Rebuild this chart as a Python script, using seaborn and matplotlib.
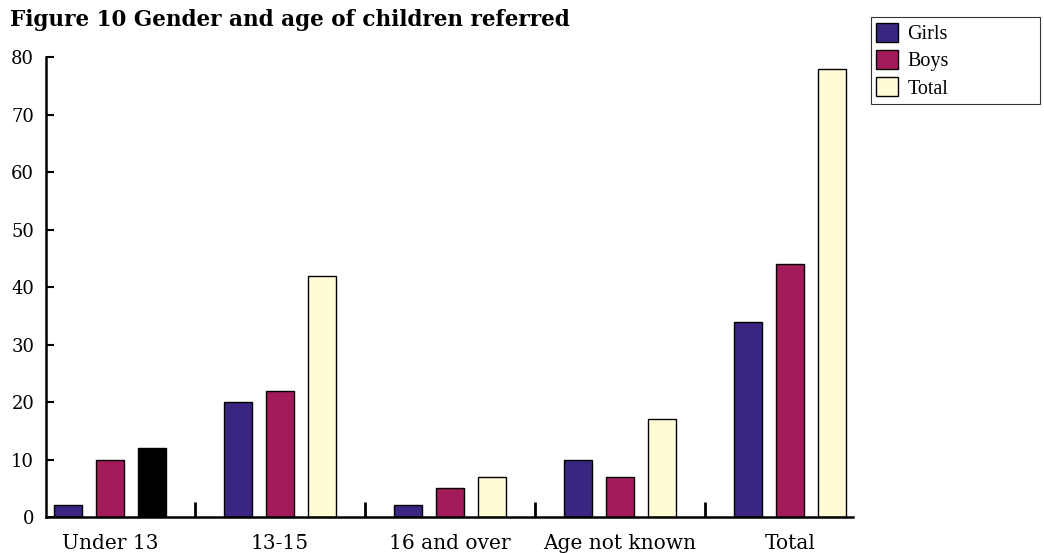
import matplotlib
matplotlib.use("Agg")
import matplotlib.pyplot as plt
import seaborn as sns
import pandas as pd
from matplotlib.patches import Patch

# Referral counts by age group and gender
age_groups = ["Under 13", "13-15", "16 and over", "Age not known", "Total"]
girls = [2, 20, 2, 10, 34]
boys = [10, 22, 5, 7, 44]
total = [12, 42, 7, 17, 78]
series = ["Girls", "Boys", "Total"]
colors = ["#3a2680", "#a31b5b", "#fffbd4"]

df = pd.DataFrame({
    "group": age_groups * 3,
    "series": ["Girls"] * 5 + ["Boys"] * 5 + ["Total"] * 5,
    "value": girls + boys + total,
})

sns.set_style("white")
plt.rcParams["font.family"] = ["DejaVu Serif"]
plt.rcParams["text.color"] = "black"
plt.rcParams["xtick.color"] = "black"
plt.rcParams["ytick.color"] = "black"

fig = plt.figure(figsize=(10.44, 5.54), dpi=100)
ax = fig.add_axes([0.0441, 0.0668, 0.773, 0.830])

sns.barplot(data=df, x="group", y="value", hue="series", order=age_groups,
            hue_order=series, palette=colors, saturation=1, width=0.741,
            gap=0.33, edgecolor="black", linewidth=1.0, legend=False, ax=ax)

# the "Total" bar of the first age group is drawn in black
for bar in ax.containers[2][:1]:
    bar.set_facecolor("black")

ax.set_xlim(-0.376, 4.37)
ax.set_ylim(0, 80)
ax.set_yticks(range(0, 81, 10))
ax.set_xlabel("")
ax.set_ylabel("")

for side in ["top", "right"]:
    ax.spines[side].set_visible(False)
for side in ["left", "bottom"]:
    ax.spines[side].set_linewidth(1.8)
    ax.spines[side].set_color("black")

ax.tick_params(axis="y", direction="in", length=5.5, width=1.5, labelsize=13,
               left=True, pad=8.5)
ax.tick_params(axis="x", which="major", length=0, labelsize=14.5, pad=12.5)
ax.set_xticks([0.5, 1.5, 2.5, 3.5], minor=True)
ax.tick_params(axis="x", which="minor", direction="in", length=11, width=2,
               bottom=True)

fig.text(0.0096, 0.963, "Figure 10 Gender and age of children referred",
         fontsize=15.5, fontweight="bold", ha="left", va="center")

handles = [Patch(facecolor=c, edgecolor="black", linewidth=1) for c in colors]
leg = fig.legend(handles, series, loc="upper left", mode="expand",
                 bbox_to_anchor=(0.834, 0.814, 0.162, 0.155),
                 frameon=True, fancybox=False,
                 prop={"family": "Liberation Serif", "size": 14.5},
                 handlelength=1.1, handleheight=1.1,
                 handletextpad=0.45, borderpad=0.28, labelspacing=0.28,
                 borderaxespad=0)
leg.get_frame().set_edgecolor("black")
leg.get_frame().set_linewidth(0.8)

fig.savefig("out.png", dpi=100)
